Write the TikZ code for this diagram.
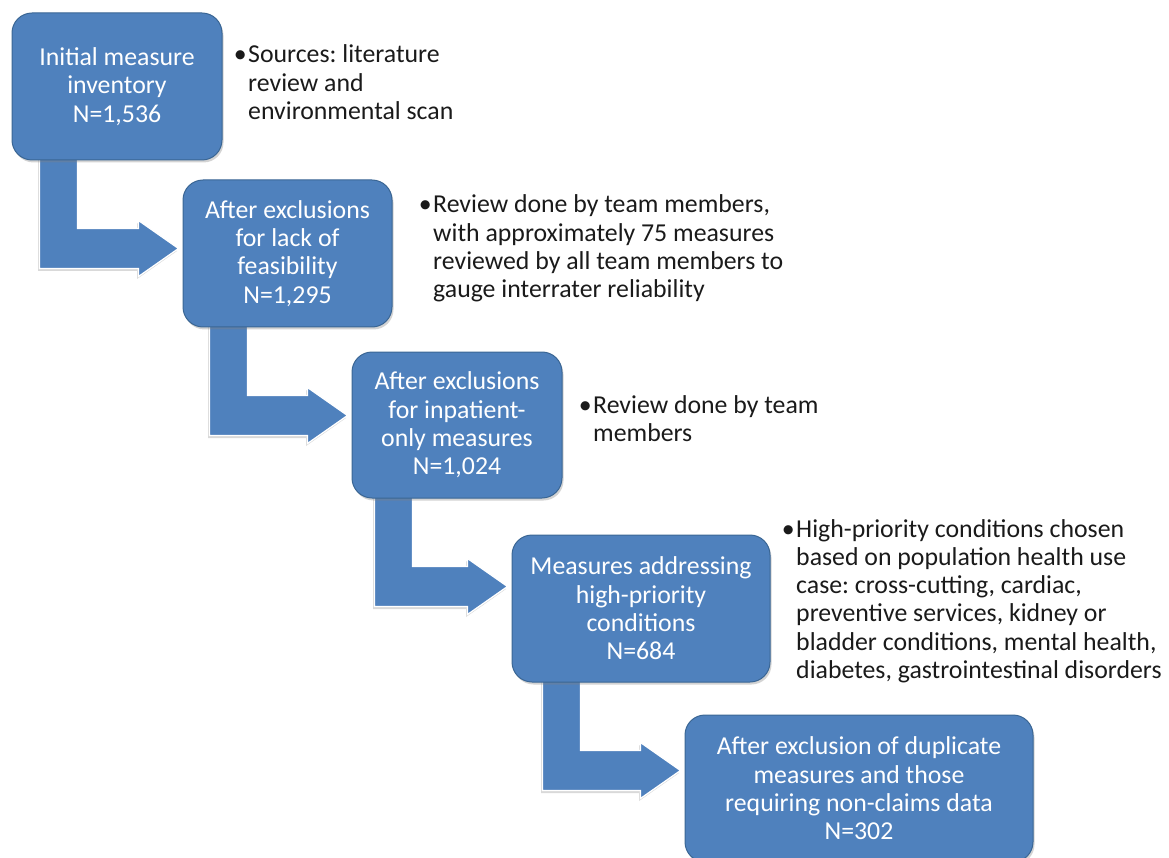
\documentclass[tikz,border=0pt]{standalone}
\usepackage{fontspec}
\setmainfont{Carlito}
\usetikzlibrary{calc,shadows}
\pgfdeclarelayer{background}
\pgfsetlayers{background,main}
\frenchspacing
\definecolor{boxblue}{HTML}{4F81BD}
\definecolor{boxedge}{HTML}{3A6694}
\definecolor{txtgray}{HTML}{1A1A1A}
\tikzset{
  stage/.style={rectangle, rounded corners=20pt, fill=boxblue, draw=boxedge, line width=1pt,
    text=white, align=center, inner sep=0pt,
    drop shadow={shadow xshift=1.5pt, shadow yshift=-2.5pt, opacity=0.35},
    font=\fontsize{25.8}{28.3}\selectfont},
  bentarrow/.style={fill=boxblue, draw=white, line width=1.3pt, line join=miter,
    drop shadow={shadow xshift=-1.5pt, shadow yshift=-2.5pt, opacity=0.3}},
  note/.style={anchor=base west, inner sep=0pt, text=txtgray, align=left,
    font=\fontsize{25.8}{28.3}\selectfont}
}
\newcommand{\bendarrow}[3]{%
  \path[bentarrow] let \p1=(#1.south west), \p2=(#2.west) in
    ({\x1+#3}, {\y1+5pt}) -- ({\x1+#3+38pt}, {\y1+5pt}) --
    ({\x1+#3+38pt}, {\y1-68pt}) -- ({\x2-44pt}, {\y1-68pt}) --
    ({\x2-44pt}, {\y1-60pt}) -- ({\x2-4pt}, {\y1-88pt}) --
    ({\x2-44pt}, {\y1-116pt}) -- ({\x2-44pt}, {\y1-108pt}) --
    ({\x1+#3}, {\y1-108pt}) -- cycle;}
\newcommand{\notelines}[1]{\llap{\textbullet\kern1.5pt}\begin{tabular}[t]{@{}l@{}}#1\end{tabular}}
\begin{document}
\begin{tikzpicture}[x=1pt,y=1pt]
\useasboundingbox (0,0) rectangle (1169,-858);
\clip (0,0) rectangle (1169,-858);
% boxes
\node[stage, minimum width=210pt, minimum height=147pt] (b1) at (117,-86.5)
  {Initial measure\\inventory\\N=1,536};
\node[stage, minimum width=209pt, minimum height=147pt] (b2) at (287.5,-253.5)
  {After exclusions\\for lack of\\feasibility\\N=1,295};
\node[stage, minimum width=210pt, minimum height=146pt] (b3) at (457,-425)
  {After exclusions\\for inpatient-\\only measures\\N=1,024};
\node[stage, minimum width=258pt, minimum height=147pt] (b4) at (641,-608.5)
  {Measures addressing\\high-priority\\conditions\\N=684};
\node[stage, minimum width=348pt, minimum height=147pt] (b5) at (859,-788.5)
  {After exclusion of duplicate\\measures and those\\requiring non-claims data\\N=302};
% arrows, behind the boxes
\begin{pgfonlayer}{background}
\bendarrow{b1}{b2}{28pt}
\bendarrow{b2}{b3}{27pt}
\bendarrow{b3}{b4}{23pt}
\bendarrow{b4}{b5}{31pt}
\end{pgfonlayer}
% notes
\node[note] (n1) at (248,-63) {\notelines{Sources: literature\\review and\\environmental scan}};
\node[note] (n2) at (433,-213) {\notelines{Review done by team members,\\with approximately 75 measures\\reviewed by all team members to\\gauge interrater reliability}};
\node[note] (n3) at (593,-413) {\notelines{Review done by team\\members}};
\node[note] (n4) at (796,-537) {\notelines{High-priority conditions chosen\\based on population health use\\case: cross-cutting, cardiac,\\preventive services, kidney or\\bladder conditions, mental health,\\diabetes, gastrointestinal disorders}};
\end{tikzpicture}
\end{document}
